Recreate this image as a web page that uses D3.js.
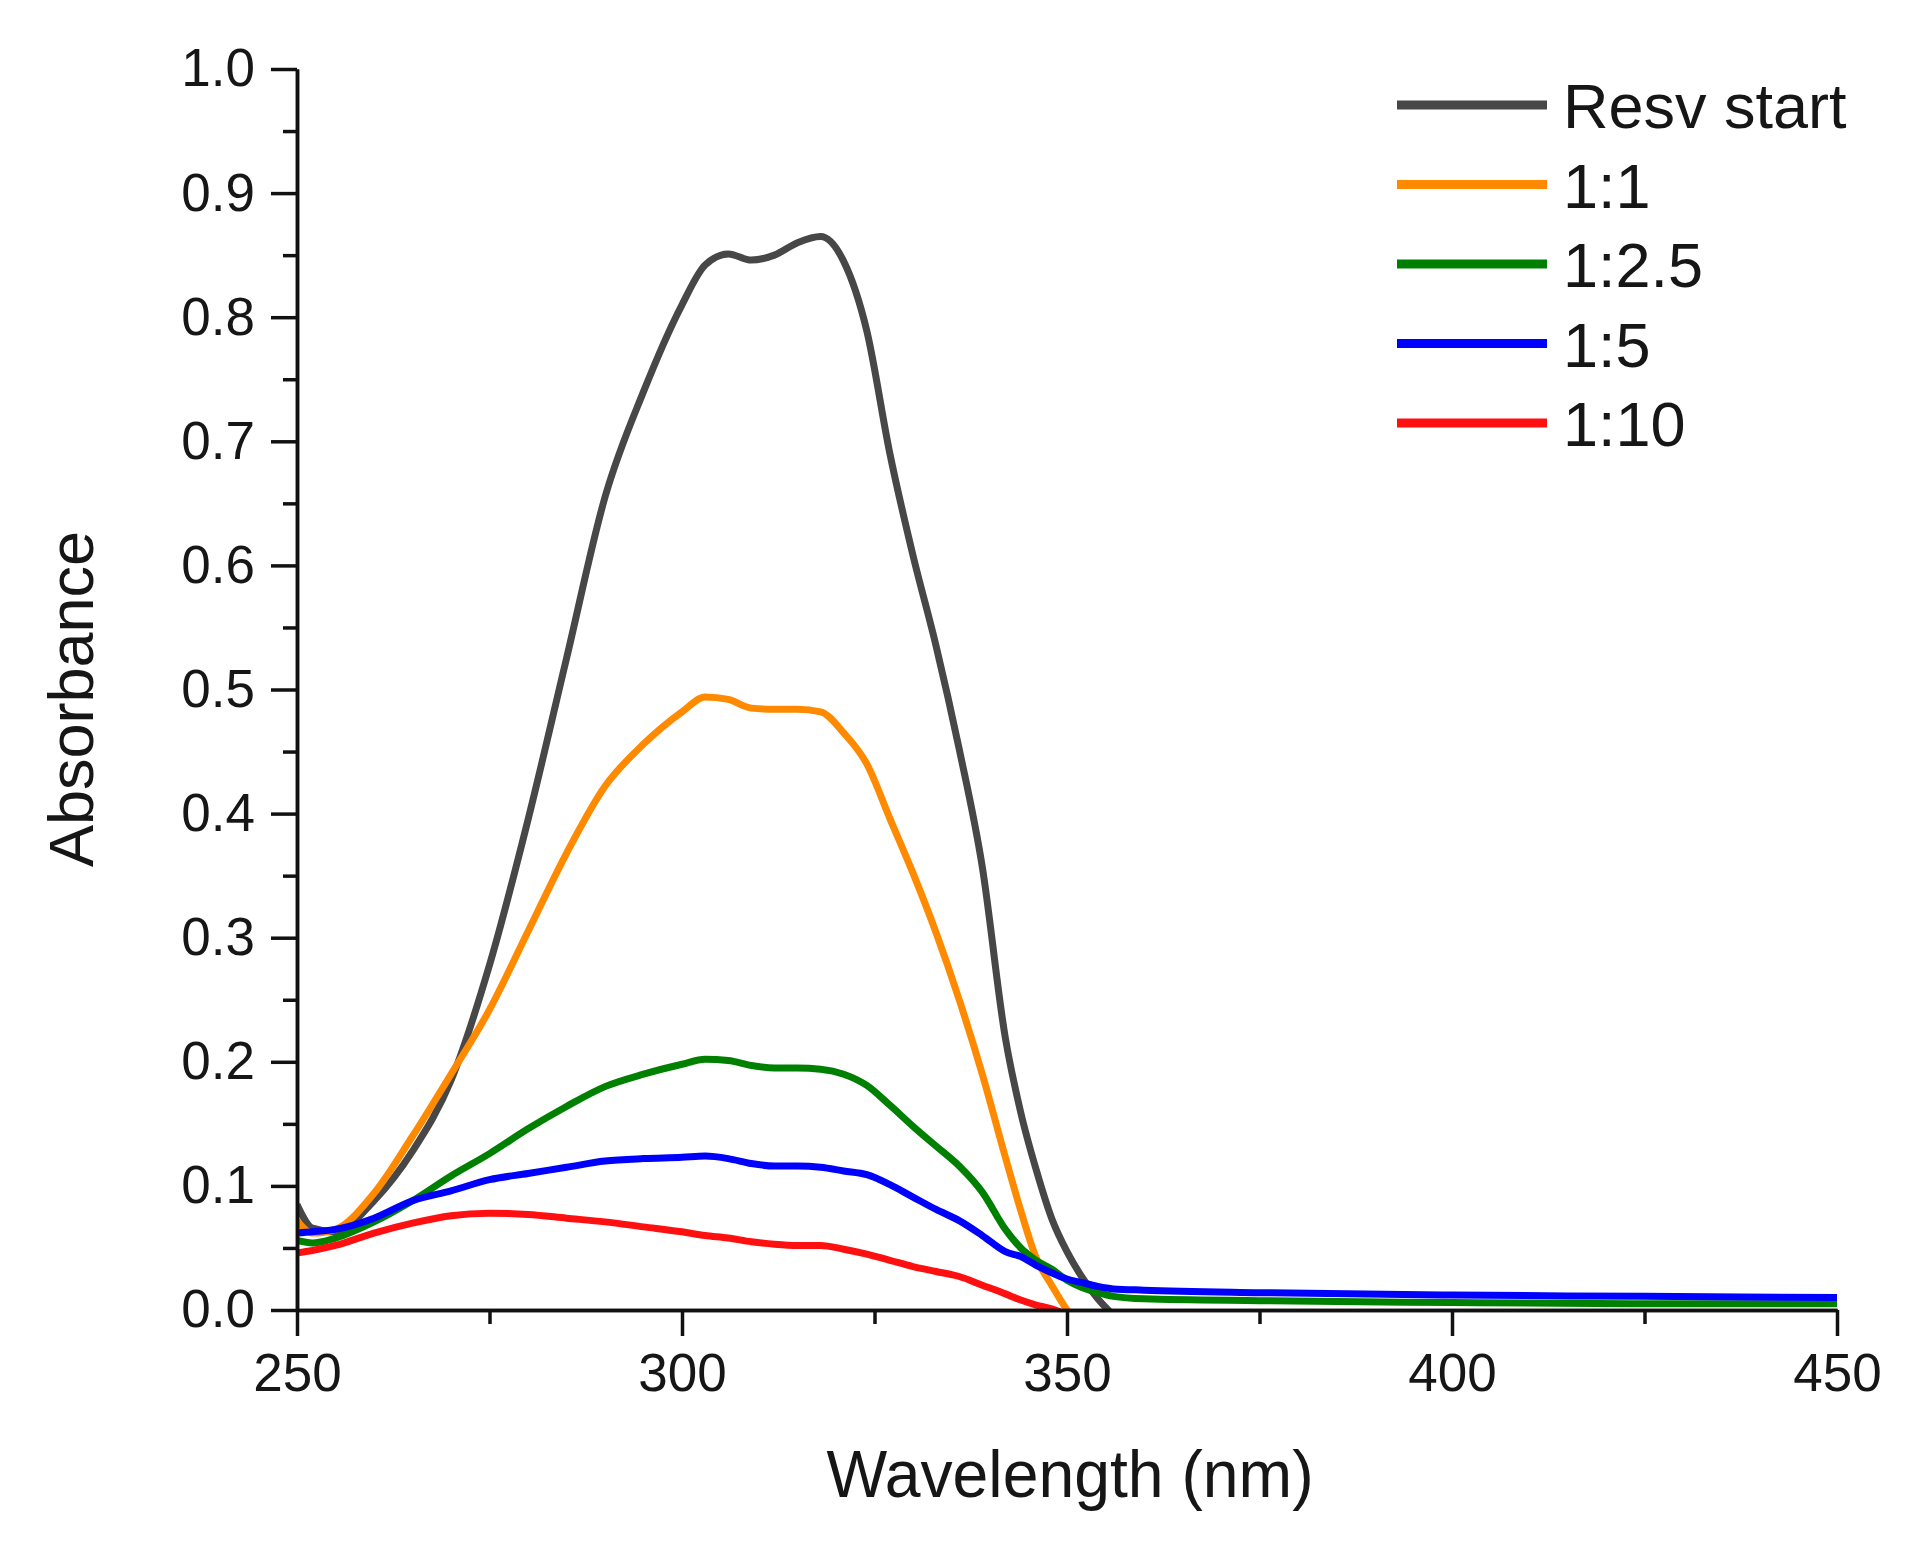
<!DOCTYPE html>
<html>
<head>
<meta charset="utf-8">
<script src="https://cdn.jsdelivr.net/npm/d3@7"></script>
<style>
  body { margin: 0; background: #fff; }
  svg text { font-family: "Liberation Sans", Arial, sans-serif; fill: #161616; }
</style>
</head>
<body>
<svg id="chart" width="1911" height="1548"></svg>
<script>
  // wavelength grid (nm) shared by all spectra
  var wavelength = [250, 252, 255, 260, 265, 270, 275, 280, 285, 290, 295, 300, 303, 306, 309, 312, 315, 318, 321, 324,
                    327, 330, 333, 336, 339, 342, 344, 346, 348, 350, 352, 354, 356, 360, 375, 400, 425, 450];

  // absorbance, null = below the axis (not drawn)
  var resv_start = [0.085, 0.066, 0.063, 0.088, 0.128, 0.185, 0.278, 0.395, 0.525, 0.655, 0.740, 0.810, 0.842, 0.851, 0.846, 0.850, 0.860, 0.865, 0.845, 0.789,
                    0.690, 0.608, 0.535, 0.452, 0.357, 0.219, 0.159, 0.113, 0.074, 0.047, 0.026, 0.009, -0.004, null, null, null, null, null];
  var ratio_1_1  = [0.072, 0.062, 0.065, 0.094, 0.140, 0.190, 0.242, 0.305, 0.368, 0.422, 0.456, 0.482, 0.494, 0.492, 0.485, 0.484, 0.484, 0.482, 0.465, 0.440,
                    0.396, 0.352, 0.304, 0.250, 0.190, 0.123, 0.080, 0.042, 0.020, 0.000, -0.015, null, null, null, null, null, null, null];
  var ratio_1_25 = [0.056, 0.054, 0.058, 0.071, 0.088, 0.108, 0.126, 0.146, 0.164, 0.180, 0.190, 0.198, 0.202, 0.201, 0.197, 0.195, 0.195, 0.194, 0.190, 0.181,
                    0.165, 0.148, 0.132, 0.116, 0.095, 0.065, 0.050, 0.040, 0.033, 0.024, 0.018, 0.014, 0.011, 0.009, 0.0075, 0.006, 0.005, 0.005];
  var ratio_1_5  = [0.062, 0.063, 0.065, 0.074, 0.088, 0.096, 0.105, 0.110, 0.115, 0.120, 0.122, 0.123, 0.124, 0.122, 0.118, 0.116, 0.116, 0.115, 0.112, 0.109,
                    0.101, 0.091, 0.081, 0.072, 0.060, 0.047, 0.043, 0.036, 0.030, 0.025, 0.022, 0.019, 0.017, 0.016, 0.014, 0.012, 0.011, 0.010];
  var ratio_1_10 = [0.046, 0.048, 0.052, 0.062, 0.070, 0.076, 0.078, 0.077, 0.074, 0.071, 0.067, 0.063, 0.060, 0.058, 0.055, 0.053, 0.052, 0.052, 0.049, 0.045,
                    0.040, 0.035, 0.031, 0.027, 0.020, 0.013, 0.008, 0.004, 0.001, -0.004, -0.010, null, null, null, null, null, null, null];

  var series_names = ['Resv start', '1:1', '1:2.5', '1:5', '1:10'];
  var series_values = [resv_start, ratio_1_1, ratio_1_25, ratio_1_5, ratio_1_10];

  var x_ticks = [250, 300, 350, 400, 450];
  var x_minor = [275, 325, 375, 425];
  var y_ticks = [0, 0.1, 0.2, 0.3, 0.4, 0.5, 0.6, 0.7, 0.8, 0.9, 1.0];
  var y_minor = [0.05, 0.15, 0.25, 0.35, 0.45, 0.55, 0.65, 0.75, 0.85, 0.95];

  var colours = ['#474747', '#ff8a00', '#008000', '#0000ff', '#ff1010'];

  var svg = d3.select('#chart');

  var x = d3.scaleLinear().domain([250, 450]).range([297, 1837]);
  var y = d3.scaleLinear().domain([0, 1]).range([1310, 69]);

  // squeeze text horizontally around its own anchor
  var squeeze = (sel, k) => {
    sel.each(function() {
      let t = d3.select(this);
      let tx = +t.attr('x') || 0;
      t.attr('transform', `translate(${ tx },0) scale(${ k },1) translate(${ -tx },0)`);
    });
  };

  // curves
  {
    svg.append('clipPath')
        .attr('id', 'plot-clip')
      .append('rect')
        .attr('x', x(250))
        .attr('y', y(1))
        .attr('width', x(450) - x(250))
        .attr('height', y(0) - y(1));

    let line = d3.line()
        .defined((d) => d[1] !== null)
        .x((d) => x(d[0]))
        .y((d) => y(d[1]))
        .curve(d3.curveMonotoneX);

    svg.append('g')
        .attr('clip-path', 'url(#plot-clip)')
      .selectAll('path')
      .data(series_values)
      .enter().append('path')
        .attr('fill', 'none')
        .attr('stroke', (d, i) => colours[i])
        .attr('stroke-width', 7)
        .attr('stroke-linejoin', 'round')
        .attr('d', (vals) => line(wavelength.map((w, j) => [w, vals[j]])));
  }

  // axes
  {
    let style_axis = (g) => {
      g.select('.domain').attr('stroke', '#111').attr('stroke-width', 3.5);
      g.selectAll('.tick line').attr('stroke', '#111').attr('stroke-width', 3.5);
      g.attr('font-family', null).attr('font-size', 53);
    };

    svg.append('g')
        .attr('transform', `translate(${ x(250) },0)`)
        .call(d3.axisLeft(y).tickValues(y_ticks).tickFormat(d3.format('.1f'))
          .tickSize(26).tickSizeOuter(0).tickPadding(16))
        .call(style_axis)
        .selectAll('.tick text').attr('fill', '#161616');

    svg.append('g')
        .attr('transform', `translate(${ x(250) },0)`)
        .call(d3.axisLeft(y).tickValues(y_minor).tickFormat('').tickSize(14).tickSizeOuter(0))
        .call(style_axis);

    svg.append('g')
        .attr('transform', `translate(0,${ y(0) })`)
        .call(d3.axisBottom(x).tickValues(x_ticks).tickFormat(d3.format('d'))
          .tickSize(26).tickSizeOuter(0).tickPadding(17))
        .call(style_axis)
        .selectAll('.tick text').attr('fill', '#161616');

    svg.append('g')
        .attr('transform', `translate(0,${ y(0) })`)
        .call(d3.axisBottom(x).tickValues(x_minor).tickFormat('').tickSize(14).tickSizeOuter(0))
        .call(style_axis);
  }

  // axis titles
  {
    svg.append('text')
        .attr('x', 1070)
        .attr('y', 1497)
        .attr('text-anchor', 'middle')
        .attr('font-size', 67)
        .text('Wavelength (nm)')
        .call(squeeze, 0.96);

    svg.append('text')
        .attr('transform', 'translate(93,699) rotate(-90)')
        .attr('text-anchor', 'middle')
        .attr('font-size', 63)
        .text('Absorbance');
  }

  // legend
  {
    let row = svg.append('g')
      .selectAll('g')
      .data(series_names)
      .enter().append('g')
        .attr('transform', (d, i) => `translate(1397,${ 105 + i * 79.5 })`);

    row.append('line')
        .attr('x1', 0)
        .attr('x2', 150)
        .attr('stroke', (d, i) => colours[i])
        .attr('stroke-width', 9);

    row.append('text')
        .attr('x', 166)
        .attr('y', 23)
        .attr('font-size', 63)
        .text((d) => d);
  }
</script>
</body>
</html>
